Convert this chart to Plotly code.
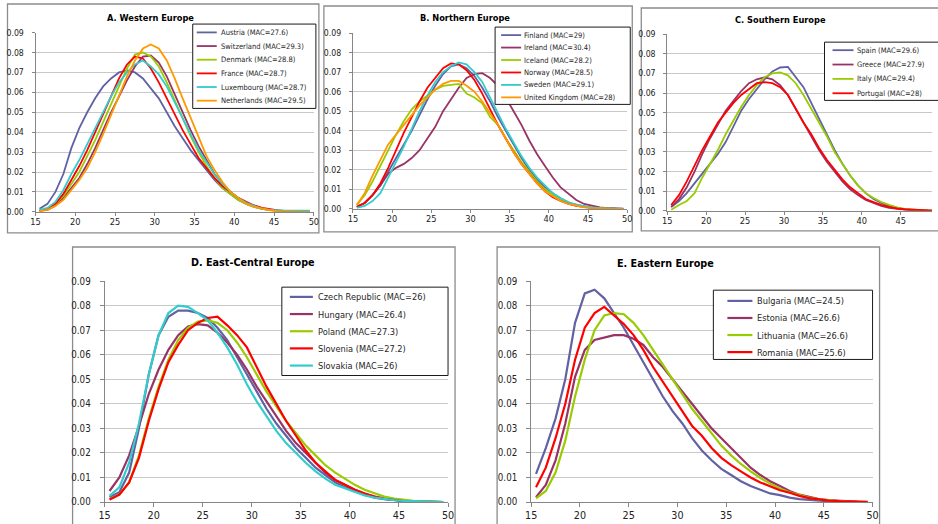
import plotly.graph_objects as go

AGES = [15.5, 16.5, 17.5, 18.5, 19.5, 20.5, 21.5, 22.5, 23.5, 24.5,
        25.5, 26.5, 27.5, 28.5, 29.5, 30.5, 31.5, 32.5, 33.5, 34.5,
        35.5, 36.5, 37.5, 38.5, 39.5, 40.5, 41.5, 42.5, 43.5, 44.5,
        45.5, 46.5, 47.5, 48.5, 49.5]

X_TICKS = [15, 20, 25, 30, 35, 40, 45, 50]
Y_TICKS = [0.00, 0.01, 0.02, 0.03, 0.04, 0.05, 0.06, 0.07, 0.08, 0.09]

# ---------------- A. Western Europe ----------------
A_NAMES = ["Austria (MAC=27.6)", "Switzerland (MAC=29.3)", "Denmark (MAC=28.8)",
           "France (MAC=28.7)", "Luxembourg (MAC=28.7)", "Netherlands (MAC=29.5)"]
austria = [0.0015, 0.004, 0.010, 0.019, 0.032, 0.042, 0.050, 0.057, 0.063, 0.067,
           0.070, 0.071, 0.070, 0.067, 0.062, 0.057, 0.050, 0.043, 0.037, 0.031,
           0.026, 0.021, 0.016, 0.012, 0.009, 0.006, 0.004, 0.0025, 0.0015, 0.0008,
           0.0004, 0.0002, 0.0001, 0.0, 0.0]
switzerland = [0.0005, 0.001, 0.003, 0.007, 0.012, 0.017, 0.024, 0.032, 0.041, 0.050,
               0.058, 0.066, 0.073, 0.078, 0.0785, 0.075, 0.068, 0.059, 0.050, 0.041,
               0.033, 0.026, 0.019, 0.014, 0.010, 0.007, 0.0045, 0.003, 0.0018, 0.001,
               0.0006, 0.0003, 0.0002, 0.0001, 0.0]
denmark = [0.0005, 0.0015, 0.004, 0.008, 0.014, 0.020, 0.028, 0.036, 0.045, 0.054,
           0.063, 0.072, 0.079, 0.080, 0.078, 0.073, 0.065, 0.056, 0.047, 0.038,
           0.030, 0.023, 0.017, 0.012, 0.009, 0.006, 0.004, 0.0025, 0.0015, 0.0008,
           0.0004, 0.0002, 0.0001, 0.0, 0.0]
france = [0.0005, 0.0015, 0.004, 0.009, 0.016, 0.023, 0.031, 0.040, 0.049, 0.058,
          0.067, 0.074, 0.078, 0.077, 0.072, 0.065, 0.057, 0.049, 0.041, 0.034,
          0.027, 0.022, 0.017, 0.013, 0.010, 0.007, 0.005, 0.0032, 0.002, 0.0012,
          0.0007, 0.0004, 0.0002, 0.0001, 0.0]
luxembourg = [0.001, 0.002, 0.005, 0.011, 0.019, 0.026, 0.034, 0.042, 0.050, 0.058,
              0.065, 0.070, 0.074, 0.076, 0.073, 0.069, 0.063, 0.055, 0.047, 0.039,
              0.031, 0.025, 0.019, 0.014, 0.010, 0.007, 0.0045, 0.003, 0.0015, 0.001,
              0.0007, 0.0006, 0.0006, 0.0006, 0.0006]
netherlands = [0.0003, 0.001, 0.003, 0.006, 0.011, 0.016, 0.022, 0.030, 0.039, 0.049,
               0.059, 0.068, 0.076, 0.082, 0.084, 0.082, 0.076, 0.067, 0.057, 0.047,
               0.037, 0.028, 0.021, 0.015, 0.010, 0.007, 0.004, 0.0025, 0.0015, 0.0008,
               0.0004, 0.0002, 0.0001, 0.0, 0.0]

# ---------------- B. Northern Europe ----------------
B_NAMES = ["Finland (MAC=29)", "Ireland (MAC=30.4)", "Iceland (MAC=28.2)",
           "Norway (MAC=28.5)", "Sweden (MAC=29.1)", "United Kingdom (MAC=28)"]
finland = [0.001, 0.003, 0.007, 0.012, 0.019, 0.026, 0.033, 0.040, 0.048, 0.056,
           0.063, 0.069, 0.073, 0.074, 0.072, 0.068, 0.062, 0.055, 0.047, 0.040,
           0.033, 0.026, 0.020, 0.015, 0.011, 0.008, 0.005, 0.003, 0.002, 0.0012,
           0.0007, 0.0004, 0.0002, 0.0001, 0.0]
ireland = [0.001, 0.003, 0.007, 0.012, 0.018, 0.021, 0.023, 0.026, 0.030, 0.036,
           0.042, 0.050, 0.056, 0.062, 0.067, 0.069, 0.0695, 0.067, 0.063, 0.057,
           0.050, 0.043, 0.035, 0.028, 0.022, 0.016, 0.011, 0.0075, 0.0045, 0.0025,
           0.0015, 0.0008, 0.0004, 0.0002, 0.0001]
iceland = [0.002, 0.007, 0.014, 0.022, 0.030, 0.038, 0.045, 0.051, 0.055, 0.058,
           0.061, 0.063, 0.0635, 0.064, 0.059, 0.057, 0.054, 0.047, 0.043, 0.036,
           0.030, 0.024, 0.019, 0.014, 0.010, 0.007, 0.005, 0.003, 0.002, 0.001,
           0.0006, 0.0003, 0.0002, 0.0001, 0.0]
norway = [0.001, 0.003, 0.007, 0.013, 0.021, 0.030, 0.039, 0.047, 0.055, 0.062,
          0.067, 0.072, 0.0745, 0.074, 0.071, 0.066, 0.059, 0.051, 0.043, 0.036,
          0.029, 0.023, 0.018, 0.013, 0.009, 0.006, 0.004, 0.0025, 0.0015, 0.0008,
          0.0004, 0.0002, 0.0001, 0.0, 0.0]
sweden = [0.0005, 0.0015, 0.004, 0.008, 0.016, 0.024, 0.032, 0.041, 0.050, 0.058,
          0.065, 0.070, 0.073, 0.075, 0.074, 0.070, 0.065, 0.057, 0.049, 0.041,
          0.034, 0.027, 0.021, 0.016, 0.012, 0.008, 0.0055, 0.0035, 0.002, 0.0012,
          0.0007, 0.0004, 0.0002, 0.0001, 0.0]
united_kingdom = [0.002, 0.008, 0.017, 0.025, 0.033, 0.038, 0.043, 0.048, 0.053, 0.057,
                  0.061, 0.064, 0.0655, 0.0655, 0.063, 0.060, 0.055, 0.049, 0.043, 0.036,
                  0.029, 0.023, 0.018, 0.013, 0.009, 0.0065, 0.004, 0.0025, 0.0015, 0.0008,
                  0.0004, 0.0002, 0.0001, 0.0, 0.0]

# ---------------- C. Southern Europe ----------------
C_NAMES = ["Spain (MAC=29.6)", "Greece (MAC=27.9)", "Italy (MAC=29.4)", "Portugal (MAC=28)"]
spain = [0.002, 0.005, 0.009, 0.014, 0.019, 0.024, 0.029, 0.035, 0.043, 0.051,
         0.057, 0.062, 0.067, 0.071, 0.073, 0.0733, 0.068, 0.063, 0.055, 0.047,
         0.039, 0.031, 0.024, 0.018, 0.013, 0.009, 0.006, 0.004, 0.0025, 0.0015,
         0.0008, 0.0004, 0.0002, 0.0001, 0.0]
greece = [0.002, 0.006, 0.012, 0.020, 0.029, 0.037, 0.044, 0.051, 0.056, 0.061,
          0.065, 0.067, 0.068, 0.067, 0.064, 0.059, 0.052, 0.045, 0.038, 0.031,
          0.025, 0.020, 0.015, 0.011, 0.008, 0.0055, 0.004, 0.0025, 0.0015, 0.001,
          0.0006, 0.0004, 0.0002, 0.0001, 0.0]
italy = [0.0005, 0.003, 0.005, 0.009, 0.017, 0.024, 0.031, 0.039, 0.046, 0.053,
         0.059, 0.064, 0.068, 0.070, 0.0705, 0.069, 0.065, 0.059, 0.052, 0.045,
         0.038, 0.030, 0.024, 0.018, 0.013, 0.009, 0.0065, 0.0045, 0.003, 0.0018,
         0.001, 0.0006, 0.0003, 0.0002, 0.0001]
portugal = [0.003, 0.008, 0.015, 0.023, 0.031, 0.038, 0.045, 0.050, 0.055, 0.059,
            0.062, 0.065, 0.0655, 0.065, 0.063, 0.059, 0.052, 0.045, 0.039, 0.032,
            0.026, 0.021, 0.016, 0.012, 0.009, 0.006, 0.0045, 0.003, 0.002, 0.0012,
            0.0008, 0.0005, 0.0003, 0.0002, 0.0001]

# ---------------- D. East-Central Europe ----------------
D_NAMES = ["Czech Republic (MAC=26)", "Hungary (MAC=26.4)", "Poland (MAC=27.3)",
           "Slovenia (MAC=27.2)", "Slovakia (MAC=26)"]
czech = [0.002, 0.004, 0.012, 0.030, 0.052, 0.068, 0.0755, 0.078, 0.078, 0.077,
         0.075, 0.071, 0.066, 0.059, 0.052, 0.045, 0.038, 0.032, 0.027, 0.022,
         0.018, 0.014, 0.011, 0.008, 0.006, 0.0045, 0.003, 0.0018, 0.0012, 0.0008,
         0.0005, 0.0003, 0.0002, 0.0001, 0.0]
hungary = [0.0045, 0.010, 0.019, 0.031, 0.044, 0.054, 0.062, 0.068, 0.0715, 0.0725,
           0.072, 0.069, 0.065, 0.060, 0.054, 0.047, 0.041, 0.035, 0.029, 0.024,
           0.020, 0.016, 0.012, 0.009, 0.007, 0.005, 0.0035, 0.0022, 0.0014, 0.0009,
           0.0005, 0.0003, 0.0002, 0.0001, 0.0]
poland = [0.001, 0.003, 0.008, 0.019, 0.034, 0.047, 0.058, 0.066, 0.071, 0.0735,
          0.074, 0.073, 0.070, 0.065, 0.059, 0.052, 0.045, 0.039, 0.033, 0.028,
          0.023, 0.019, 0.015, 0.012, 0.0095, 0.007, 0.005, 0.0035, 0.0022, 0.0014,
          0.0008, 0.0005, 0.0003, 0.0001, 0.0]
slovenia = [0.001, 0.003, 0.008, 0.018, 0.033, 0.046, 0.057, 0.064, 0.070, 0.073,
            0.075, 0.0755, 0.072, 0.068, 0.063, 0.055, 0.047, 0.040, 0.033, 0.027,
            0.021, 0.016, 0.0125, 0.009, 0.007, 0.005, 0.0035, 0.0022, 0.0013, 0.0008,
            0.0004, 0.0002, 0.0001, 0.0, 0.0]
slovakia = [0.0025, 0.006, 0.016, 0.032, 0.052, 0.068, 0.077, 0.080, 0.0795, 0.077,
            0.074, 0.069, 0.063, 0.056, 0.048, 0.041, 0.035, 0.029, 0.024, 0.020,
            0.016, 0.0125, 0.0095, 0.007, 0.0055, 0.004, 0.0027, 0.0018, 0.0012, 0.0008,
            0.0005, 0.0003, 0.0002, 0.0001, 0.0]

# ---------------- E. Eastern Europe ----------------
E_NAMES = ["Bulgaria (MAC=24.5)", "Estonia (MAC=26.6)", "Lithuania (MAC=26.6)",
           "Romania (MAC=25.6)"]
bulgaria = [0.0115, 0.022, 0.034, 0.050, 0.073, 0.085, 0.0865, 0.083, 0.077, 0.071,
            0.064, 0.057, 0.050, 0.043, 0.037, 0.032, 0.026, 0.021, 0.017, 0.0135,
            0.011, 0.0085, 0.0065, 0.005, 0.0035, 0.0028, 0.0018, 0.0012, 0.0008, 0.0005,
            0.0003, 0.0002, 0.0001, 0.0, 0.0]
estonia = [0.002, 0.007, 0.017, 0.032, 0.051, 0.062, 0.066, 0.067, 0.068, 0.068,
           0.0665, 0.064, 0.059, 0.055, 0.050, 0.045, 0.040, 0.035, 0.030, 0.026,
           0.022, 0.018, 0.014, 0.011, 0.0085, 0.0065, 0.0045, 0.003, 0.002, 0.0012,
           0.0008, 0.0005, 0.0003, 0.0001, 0.0]
lithuania = [0.0015, 0.0045, 0.012, 0.025, 0.043, 0.058, 0.070, 0.076, 0.077, 0.0765,
             0.073, 0.068, 0.062, 0.056, 0.050, 0.044, 0.038, 0.033, 0.028, 0.023,
             0.019, 0.0155, 0.0125, 0.0098, 0.0075, 0.0055, 0.004, 0.0028, 0.0018, 0.0011,
             0.0007, 0.0004, 0.0002, 0.0001, 0.0]
romania = [0.006, 0.014, 0.026, 0.040, 0.058, 0.071, 0.077, 0.0795, 0.076, 0.0725,
           0.068, 0.062, 0.055, 0.049, 0.043, 0.037, 0.031, 0.027, 0.022, 0.018,
           0.015, 0.0125, 0.010, 0.008, 0.0065, 0.0048, 0.0038, 0.0025, 0.0016, 0.001,
           0.0006, 0.0004, 0.0003, 0.0002, 0.0001]

COLORS = ["#6161A3", "#993366", "#99CC00", "#FF0000", "#33CCCC", "#FF9900"]

W, H = 938, 524
FONT = "DejaVu Sans Condensed, DejaVu Sans, sans-serif"

# The photographed page shows the figure slightly inset and scaled; the geometry
# below is given in the reference picture's pixels and mapped through this.
OX, OY, SX, SY = 6.5, 7.0, 0.986, 0.975
FS = 1.02


def fx(p):
    return (p - OX) / SX / W


def fy(p):
    return 1 - (p - OY) / SY / H


def clamp(v):
    return max(0.0, min(1.0, v))


# layout geometry (reference pixels): plot area, frame, title, legend box, legend rows
PANELS = [
    dict(title="A. Western Europe", names=A_NAMES,
         series=[austria, switzerland, denmark, france, luxembourg, netherlands],
         plot=(36, 33.5, 314, 212), frame=(8, 5, 319, 233), title_xy=(151, 18),
         legbox=(193, 25, 316, 109), row0=33.3, rowh=13.6, line=(197, 217), tx=219,
         lfs=7.4, xfs=9, yfs=8.5, tfs=9, lw=1.8, small=True),
    dict(title="B. Northern Europe", names=B_NAMES,
         series=[finland, ireland, iceland, norway, sweden, united_kingdom],
         plot=(353, 34, 627, 209), frame=(324, 7, 632, 232), title_xy=(465, 18),
         legbox=(495, 28, 630, 105), row0=36, rowh=12.4, line=(501, 521), tx=522,
         lfs=7.4, xfs=9, yfs=8.5, tfs=9, lw=1.8, small=True),
    dict(title="C. Southern Europe", names=C_NAMES,
         series=[spain, greece, italy, portugal],
         plot=(667, 35, 939, 211), frame=(641, 9, 960, 231), title_xy=(780, 20),
         legbox=(824, 43, 950, 101), row0=51, rowh=14.3, line=(832, 853), tx=854,
         lfs=7.4, xfs=9, yfs=8.5, tfs=9, lw=1.8, small=True),
    dict(title="D. East-Central Europe", names=D_NAMES,
         series=[czech, hungary, poland, slovenia, slovakia],
         plot=(105, 281, 448, 501), frame=(73, 247, 455, 540), title_xy=(253, 262),
         legbox=(282, 287, 448, 375), row0=296.7, rowh=17.1, line=(290, 313), tx=316,
         lfs=9, xfs=10.5, yfs=9.5, tfs=10.5, lw=2.2, small=False),
    dict(title="E. Eastern Europe", names=E_NAMES,
         series=[bulgaria, estonia, lithuania, romania],
         plot=(531, 281, 872, 501), frame=(497, 247, 879, 540), title_xy=(665, 263),
         legbox=(713, 290, 872, 359), row0=300.7, rowh=17.0, line=(727, 752), tx=755,
         lfs=9, xfs=10.5, yfs=9.5, tfs=10.5, lw=2.2, small=False),
]

fig = go.Figure()
layout = dict(
    width=W, height=H, margin=dict(l=0, r=0, t=0, b=0), autosize=False,
    paper_bgcolor="white", plot_bgcolor="white", showlegend=False,
    font=dict(family=FONT, color="#000000"),
    shapes=[], annotations=[],
)

for i, p in enumerate(PANELS):
    n = i + 1
    xa = "xaxis" if n == 1 else f"xaxis{n}"
    ya = "yaxis" if n == 1 else f"yaxis{n}"
    xr = "x" if n == 1 else f"x{n}"
    yr = "y" if n == 1 else f"y{n}"
    x0, y0, x1, y1 = p["plot"]
    d0, d1 = fx(x0), fx(x1)
    xmax = 50.0
    if d1 > 1.0:  # plot area runs past the right edge of the picture
        xmax = 15 + 35 * (1.0 - d0) / (d1 - d0)
        d1 = 1.0
    fx0, fy0, fx1, fy1 = p["frame"]
    layout["shapes"].append(dict(type="rect", xref="paper", yref="paper",
                                 x0=fx(fx0), x1=fx(fx1), y0=fy(fy1), y1=fy(fy0),
                                 line=dict(color="#8C8C8C", width=1.3), layer="below"))
    for name, vals, col in zip(p["names"], p["series"], COLORS):
        fig.add_trace(go.Scatter(x=AGES, y=vals, mode="lines", name=name,
                                 line=dict(color=col, width=p["lw"]),
                                 xaxis=xr, yaxis=yr, hoverinfo="x+y+name"))
    layout[xa] = dict(domain=[clamp(d0), d1], range=[15, xmax],
                      anchor=yr, tickvals=X_TICKS, ticks="outside",
                      ticklen=3 if p["small"] else 4,
                      tickcolor="#868686", showline=True, linecolor="#868686",
                      showgrid=False, zeroline=False,
                      ticklabelstandoff=-2 if p["small"] else -1,
                      tickfont=dict(size=p["xfs"] * FS, family=FONT, color="#222"))
    layout[ya] = dict(domain=[clamp(fy(y1)), clamp(fy(y0))], range=[0, 0.09], anchor=xr,
                      tickvals=Y_TICKS, tickformat=".2f", ticks="outside",
                      ticklen=3 if p["small"] else 4,
                      tickcolor="#868686", showline=True, linecolor="#868686",
                      showgrid=True, gridcolor="#C8C8C8", gridwidth=1, zeroline=False,
                      ticklabelstandoff=6 if p["small"] else 7,
                      tickfont=dict(size=p["yfs"] * FS, family=FONT, color="#222"))
    # legend box (drawn above the curves, like the original chart's legend)
    bx0, by0, bx1, by1 = p["legbox"]
    layout["shapes"].append(dict(type="rect", xref="paper", yref="paper",
                                 x0=fx(bx0), x1=fx(bx1), y0=fy(by1), y1=fy(by0),
                                 line=dict(color="#1A1A1A", width=1),
                                 fillcolor="white", layer="above"))
    lx0, lx1 = p["line"]
    for k, (name, col) in enumerate(zip(p["names"], COLORS)):
        ry = p["row0"] + k * p["rowh"]
        layout["shapes"].append(dict(type="line", xref="paper", yref="paper",
                                     x0=fx(lx0), x1=fx(lx1), y0=fy(ry), y1=fy(ry),
                                     line=dict(color=col, width=p["lw"]), layer="above"))
        layout["annotations"].append(dict(text=name, xref="paper", yref="paper",
                                          x=fx(p["tx"]), y=fy(ry), showarrow=False,
                                          xanchor="left", yanchor="middle",
                                          font=dict(size=p["lfs"] * FS, family=FONT,
                                                    color="#262626")))
    tx, ty = p["title_xy"]
    layout["annotations"].append(dict(text="<b>" + p["title"] + "</b>", xref="paper",
                                      yref="paper", x=fx(tx), y=fy(ty), showarrow=False,
                                      xanchor="center", yanchor="middle",
                                      font=dict(size=p["tfs"] * FS, family=FONT,
                                                color="#000")))

fig.update_layout(**layout)
PAGE_CSS = ("var s=document.createElement('style');"
            "s.textContent='html,body{margin:0!important;padding:0!important;"
            "overflow:hidden!important;width:938px;height:524px;}';"
            "document.head.appendChild(s);")
fig.write_html("out.html",
               config={"responsive": False, "displayModeBar": False},
               post_script=PAGE_CSS)
